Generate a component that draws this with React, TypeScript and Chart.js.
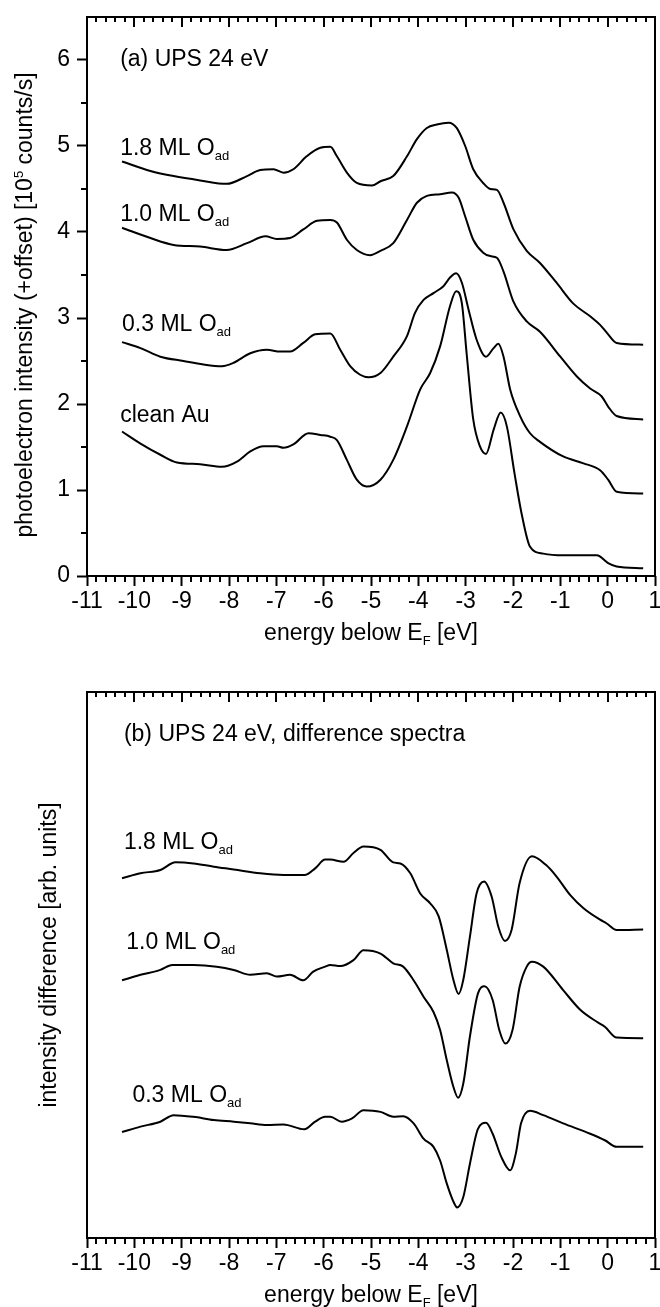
import React, { useEffect, useRef } from "react";
import { Chart, registerables } from "chart.js";

Chart.register(...registerables);

const FAMILY = '"Liberation Sans", Arial, Helvetica, sans-serif';
const MAIN = 23;
const SMALL = 13;

// ---------- axis ticks ----------
const xTickValues = [-11, -10, -9, -8, -7, -6, -5, -4, -3, -2, -1, 0, 1];
const yTickValuesA = [0, 1, 2, 3, 4, 5, 6];

// ---------- panel (a): UPS spectra ----------
const energyA18 = [-10.26, -9.66, -9.17, -8.61, -8.05, -7.62, -7.34, -7.06, -6.85, -6.64, -6.36, -6.07, -5.86, -5.72, -5.51, -5.3, -4.98, -4.8, -4.53, -4.24, -4.03, -3.82, -3.61, -3.36, -3.19, -3.01, -2.84, -2.63, -2.48, -2.34, -2.2, -1.99, -1.71, -1.43, -1.08, -0.73, -0.37, -0.16, -0.02, 0.19, 0.75];
const intensA18 = [4.82, 4.71, 4.65, 4.6, 4.56, 4.65, 4.72, 4.73, 4.69, 4.73, 4.88, 4.98, 4.99, 4.88, 4.69, 4.57, 4.54, 4.59, 4.65, 4.88, 5.08, 5.21, 5.25, 5.27, 5.21, 5.0, 4.73, 4.57, 4.5, 4.49, 4.34, 4.03, 3.78, 3.64, 3.41, 3.17, 3.02, 2.92, 2.83, 2.71, 2.69];

const energyA10 = [-10.26, -9.66, -9.17, -8.61, -8.05, -7.62, -7.23, -6.99, -6.71, -6.43, -6.14, -5.86, -5.72, -5.51, -5.3, -5.02, -4.8, -4.53, -4.24, -4.03, -3.82, -3.54, -3.29, -3.15, -3.01, -2.84, -2.63, -2.48, -2.34, -2.2, -1.99, -1.71, -1.43, -1.0, -0.65, -0.37, -0.13, 0.01, 0.19, 0.75];
const intensA10 = [4.05, 3.93, 3.85, 3.83, 3.79, 3.87, 3.95, 3.92, 3.93, 4.03, 4.13, 4.14, 4.11, 3.91, 3.79, 3.73, 3.78, 3.87, 4.14, 4.34, 4.42, 4.44, 4.46, 4.4, 4.18, 3.91, 3.76, 3.72, 3.7, 3.54, 3.19, 2.96, 2.84, 2.55, 2.32, 2.18, 2.09, 1.97, 1.86, 1.82];

const energyA03 = [-10.26, -9.87, -9.45, -8.96, -8.54, -8.15, -7.9, -7.55, -7.2, -6.92, -6.71, -6.43, -6.18, -5.86, -5.65, -5.44, -5.23, -5.05, -4.8, -4.53, -4.24, -4.07, -3.89, -3.68, -3.47, -3.33, -3.2, -3.08, -2.94, -2.77, -2.57, -2.41, -2.31, -2.2, -2.06, -1.85, -1.64, -1.43, -0.94, -0.51, -0.16, 0.01, 0.19, 0.75];
const intensA03 = [2.72, 2.65, 2.55, 2.5, 2.46, 2.44, 2.48, 2.59, 2.63, 2.61, 2.61, 2.71, 2.81, 2.82, 2.63, 2.44, 2.34, 2.31, 2.36, 2.55, 2.79, 3.06, 3.21, 3.29, 3.37, 3.47, 3.52, 3.41, 3.1, 2.75, 2.55, 2.65, 2.7, 2.55, 2.17, 1.86, 1.66, 1.56, 1.39, 1.31, 1.23, 1.12, 0.98, 0.96];

const energyAAu = [-10.26, -9.87, -9.45, -9.1, -8.61, -8.15, -7.83, -7.55, -7.27, -6.99, -6.85, -6.64, -6.32, -6.07, -5.86, -5.72, -5.51, -5.3, -5.09, -4.8, -4.53, -4.24, -3.96, -3.75, -3.54, -3.33, -3.2, -3.08, -2.98, -2.84, -2.7, -2.57, -2.41, -2.26, -2.13, -1.97, -1.82, -1.64, -1.36, -0.94, -0.23, 0.01, 0.19, 0.75];
const intensAAu = [1.68, 1.54, 1.41, 1.32, 1.3, 1.27, 1.33, 1.45, 1.51, 1.51, 1.49, 1.53, 1.66, 1.64, 1.62, 1.58, 1.35, 1.12, 1.04, 1.12, 1.35, 1.74, 2.17, 2.36, 2.67, 3.14, 3.31, 3.17, 2.59, 1.82, 1.51, 1.42, 1.7, 1.9, 1.74, 1.2, 0.73, 0.34, 0.26, 0.24, 0.24, 0.15, 0.11, 0.09];

// ---------- panel (b): difference spectra (arb. units) ----------
const energyB18 = [-10.26, -9.87, -9.45, -9.13, -8.75, -8.32, -7.9, -7.34, -6.85, -6.39, -6.18, -5.97, -5.86, -5.58, -5.37, -5.16, -4.8, -4.53, -4.38, -4.17, -3.96, -3.75, -3.57, -3.4, -3.26, -3.15, -3.05, -2.91, -2.77, -2.61, -2.45, -2.31, -2.17, -2.03, -1.86, -1.6, -1.3, -1.08, -0.79, -0.51, -0.16, -0.02, 0.19, 0.75];
const diffB18 = [6.59, 6.68, 6.74, 6.88, 6.86, 6.8, 6.75, 6.68, 6.65, 6.65, 6.77, 6.93, 6.93, 6.89, 7.05, 7.17, 7.11, 6.88, 6.86, 6.68, 6.31, 6.13, 5.89, 5.28, 4.73, 4.47, 4.73, 5.52, 6.31, 6.53, 6.25, 5.7, 5.44, 5.64, 6.5, 6.99, 6.83, 6.62, 6.28, 6.04, 5.83, 5.76, 5.64, 5.65];

const energyB10 = [-10.26, -9.87, -9.45, -9.2, -8.75, -8.26, -7.9, -7.55, -7.2, -6.99, -6.71, -6.43, -6.22, -5.97, -5.86, -5.65, -5.37, -5.16, -4.8, -4.53, -4.32, -4.1, -3.89, -3.68, -3.54, -3.4, -3.26, -3.16, -3.05, -2.91, -2.74, -2.6, -2.43, -2.29, -2.16, -2.01, -1.86, -1.71, -1.6, -1.36, -0.94, -0.58, -0.23, -0.06, 0.19, 0.75];
const diffB10 = [4.72, 4.82, 4.91, 5.0, 5.0, 4.97, 4.91, 4.82, 4.85, 4.79, 4.82, 4.72, 4.88, 4.97, 5.0, 4.98, 5.09, 5.27, 5.21, 5.03, 4.97, 4.72, 4.42, 4.14, 3.81, 3.26, 2.77, 2.57, 2.83, 3.69, 4.48, 4.61, 4.36, 3.81, 3.56, 3.81, 4.6, 4.97, 5.06, 4.97, 4.54, 4.18, 3.96, 3.87, 3.67, 3.66];

const energyB03 = [-10.26, -9.87, -9.45, -9.17, -8.75, -8.32, -7.9, -7.55, -7.2, -6.85, -6.41, -6.18, -5.97, -5.86, -5.62, -5.4, -5.16, -4.8, -4.53, -4.32, -4.1, -3.89, -3.68, -3.54, -3.4, -3.27, -3.18, -3.05, -2.91, -2.74, -2.57, -2.43, -2.25, -2.06, -1.94, -1.83, -1.64, -1.36, -0.94, -0.37, -0.06, 0.19, 0.75];
const diffB03 = [1.94, 2.04, 2.13, 2.25, 2.22, 2.16, 2.13, 2.1, 2.07, 2.08, 1.99, 2.13, 2.22, 2.22, 2.13, 2.19, 2.34, 2.31, 2.22, 2.23, 2.1, 1.82, 1.67, 1.42, 1.0, 0.69, 0.56, 0.75, 1.36, 2.0, 2.11, 1.91, 1.49, 1.24, 1.55, 2.1, 2.33, 2.25, 2.1, 1.91, 1.79, 1.67, 1.67];

// ---------- text ----------
type Part = { t: string; k?: "sub" | "sup" };
const coverageLabel = (s: string): Part[] => [{ t: s + " ML O" }, { t: "ad", k: "sub" }];
const xTitleParts: Part[] = [{ t: "energy below E" }, { t: "F", k: "sub" }, { t: " [eV]" }];
const yTitleA: Part[] = [{ t: "photoelectron intensity (+offset) [10" }, { t: "5", k: "sup" }, { t: " counts/s]" }];
const yTitleB: Part[] = [{ t: "intensity difference [arb. units]" }];

const labelsA = [
  { x: -10.3, y: 5.93, parts: [{ t: "(a) UPS 24 eV" }] as Part[] },
  { x: -10.3, y: 4.9, parts: coverageLabel("1.8") },
  { x: -10.3, y: 4.125, parts: coverageLabel("1.0") },
  { x: -10.26, y: 2.844, parts: coverageLabel("0.3") },
  { x: -10.3, y: 1.796, parts: [{ t: "clean Au" }] as Part[] },
];
const labelsB = [
  { x: -10.22, y: 9.094, parts: [{ t: "(b) UPS 24 eV, difference spectra" }] as Part[] },
  { x: -10.22, y: 7.12, parts: coverageLabel("1.8") },
  { x: -10.17, y: 5.288, parts: coverageLabel("1.0") },
  { x: -10.04, y: 2.49, parts: coverageLabel("0.3") },
];

function partFont(p: Part) {
  return `${p.k ? SMALL : MAIN}px ${FAMILY}`;
}
function partDy(p: Part) {
  return p.k === "sub" ? 5 : p.k === "sup" ? -9 : 0;
}
function drawParts(ctx: CanvasRenderingContext2D, parts: Part[], x: number, y: number, align: "left" | "center") {
  let total = 0;
  const widths = parts.map((p) => {
    ctx.font = partFont(p);
    const w = ctx.measureText(p.t).width;
    total += w;
    return w;
  });
  let cx = align === "center" ? x - total / 2 : x;
  ctx.textAlign = "left";
  ctx.textBaseline = "alphabetic";
  parts.forEach((p, i) => {
    ctx.font = partFont(p);
    ctx.fillText(p.t, cx, y + partDy(p));
    cx += widths[i];
  });
}

function minorBetween(majors: number[], n: number) {
  const out: number[] = [];
  for (let i = 0; i < majors.length - 1; i++) {
    const a = majors[i];
    const b = majors[i + 1];
    for (let j = 1; j < n; j++) out.push(a + ((b - a) * j) / n);
  }
  return out;
}

const decorPlugin = {
  id: "decor",
  afterDraw(chart: any, _args: any, opts: any) {
    const { ctx, chartArea: a } = chart;
    const xs = chart.scales.x;
    const ys = chart.scales.y;
    ctx.save();
    ctx.strokeStyle = "#000";
    ctx.fillStyle = "#000";
    ctx.lineWidth = 2;
    ctx.strokeRect(a.left, a.top, a.right - a.left, a.bottom - a.top);
    ctx.beginPath();
    const xMinor = minorBetween(xTickValues, 5);
    for (const v of xMinor) {
      const px = Math.round(xs.getPixelForValue(v));
      ctx.moveTo(px, a.bottom);
      ctx.lineTo(px, a.bottom + 6);
      ctx.moveTo(px, a.top);
      ctx.lineTo(px, a.top + 5);
    }
    for (const v of xTickValues) {
      const px = Math.round(xs.getPixelForValue(v));
      ctx.moveTo(px, a.top);
      ctx.lineTo(px, a.top + 10);
    }
    if (opts.yTicks) {
      for (const v of minorBetween(opts.yTicks, 2)) {
        const py = Math.round(ys.getPixelForValue(v));
        ctx.moveTo(a.left, py);
        ctx.lineTo(a.left - 6, py);
      }
      const extra = opts.yTicks[opts.yTicks.length - 1] + 0.5;
      if (extra < ys.max) {
        const py = Math.round(ys.getPixelForValue(extra));
        ctx.moveTo(a.left, py);
        ctx.lineTo(a.left - 6, py);
      }
    }
    ctx.stroke();

    for (const l of opts.labels) {
      drawParts(ctx, l.parts, xs.getPixelForValue(l.x), ys.getPixelForValue(l.y), "left");
    }
    drawParts(ctx, xTitleParts, (a.left + a.right) / 2, a.bottom + 64, "center");

    ctx.save();
    ctx.translate(opts.yTitleX, opts.yTitleY);
    ctx.rotate(-Math.PI / 2);
    drawParts(ctx, opts.yTitle, 0, 0, "center");
    ctx.restore();
    ctx.restore();
  },
};

function lineSet(xs: number[], ys: number[]) {
  return {
    data: xs.map((x, i) => ({ x, y: ys[i] })),
    showLine: true,
    borderColor: "#000",
    borderWidth: 2,
    pointRadius: 0,
    fill: false,
    cubicInterpolationMode: "monotone" as const,
  };
}

function makeConfig(
  datasets: any[],
  yMin: number,
  yMax: number,
  yTicks: number[] | null,
  pad: { top: number; bottom: number },
  xHeight: number,
  decor: any
) {
  const tickFont = { family: FAMILY, size: MAIN };
  return {
    type: "scatter" as const,
    data: { datasets },
    options: {
      animation: false as const,
      responsive: false,
      devicePixelRatio: 1,
      events: [] as any[],
      layout: { padding: { left: 0, right: 5, top: pad.top, bottom: pad.bottom } },
      plugins: { legend: { display: false }, tooltip: { enabled: false }, decor },
      scales: {
        x: {
          type: "linear" as const,
          min: -11,
          max: 1,
          afterBuildTicks: (s: any) => {
            s.ticks = xTickValues.map((v) => ({ value: v }));
          },
          afterFit: (s: any) => {
            s.height = xHeight;
            s.paddingLeft = 0;
            s.paddingRight = 0;
          },
          ticks: { font: tickFont, color: "#000", padding: 2, maxRotation: 0, autoSkip: false, callback: (v: any) => String(v) },
          grid: { display: true, drawOnChartArea: false, drawTicks: true, tickLength: 10, tickWidth: 2, tickColor: "#000" },
          border: { display: false },
        },
        y: {
          type: "linear" as const,
          min: yMin,
          max: yMax,
          afterBuildTicks: (s: any) => {
            s.ticks = (yTicks || []).map((v) => ({ value: v }));
          },
          afterFit: (s: any) => {
            s.width = 87;
            s.paddingTop = 0;
            s.paddingBottom = 0;
          },
          ticks: { display: !!yTicks, font: tickFont, color: "#000", padding: 7, callback: (v: any) => String(v) },
          grid: { display: !!yTicks, drawOnChartArea: false, drawTicks: true, tickLength: 10, tickWidth: 2, tickColor: "#000" },
          border: { display: false },
        },
      },
    },
    plugins: [decorPlugin],
  };
}

export default function App() {
  const refA = useRef<HTMLCanvasElement>(null);
  const refB = useRef<HTMLCanvasElement>(null);

  useEffect(() => {
    const chartA = new Chart(
      refA.current!,
      makeConfig(
        [
          lineSet(energyA18, intensA18),
          lineSet(energyA10, intensA10),
          lineSet(energyA03, intensA03),
          lineSet(energyAAu, intensAAu),
        ],
        0,
        6.5,
        yTickValuesA,
        { top: 17, bottom: 0 },
        74,
        { labels: labelsA, yTicks: yTickValuesA, yTitle: yTitleA, yTitleX: 32, yTitleY: 305 }
      ) as any
    );
    const chartB = new Chart(
      refB.current!,
      makeConfig(
        [lineSet(energyB18, diffB18), lineSet(energyB10, diffB10), lineSet(energyB03, diffB03)],
        0,
        10,
        null,
        { top: 42, bottom: 0 },
        69,
        { labels: labelsB, yTicks: null, yTitle: yTitleB, yTitleX: 56, yTitleY: 305 }
      ) as any
    );
    return () => {
      chartA.destroy();
      chartB.destroy();
    };
  }, []);

  return (
    <div style={{ position: "absolute", left: 0, top: 0, width: 660, height: 1307, background: "#fff" }}>
      <canvas ref={refA} width={660} height={650} style={{ display: "block" }} />
      <canvas ref={refB} width={660} height={657} style={{ display: "block" }} />
    </div>
  );
}
